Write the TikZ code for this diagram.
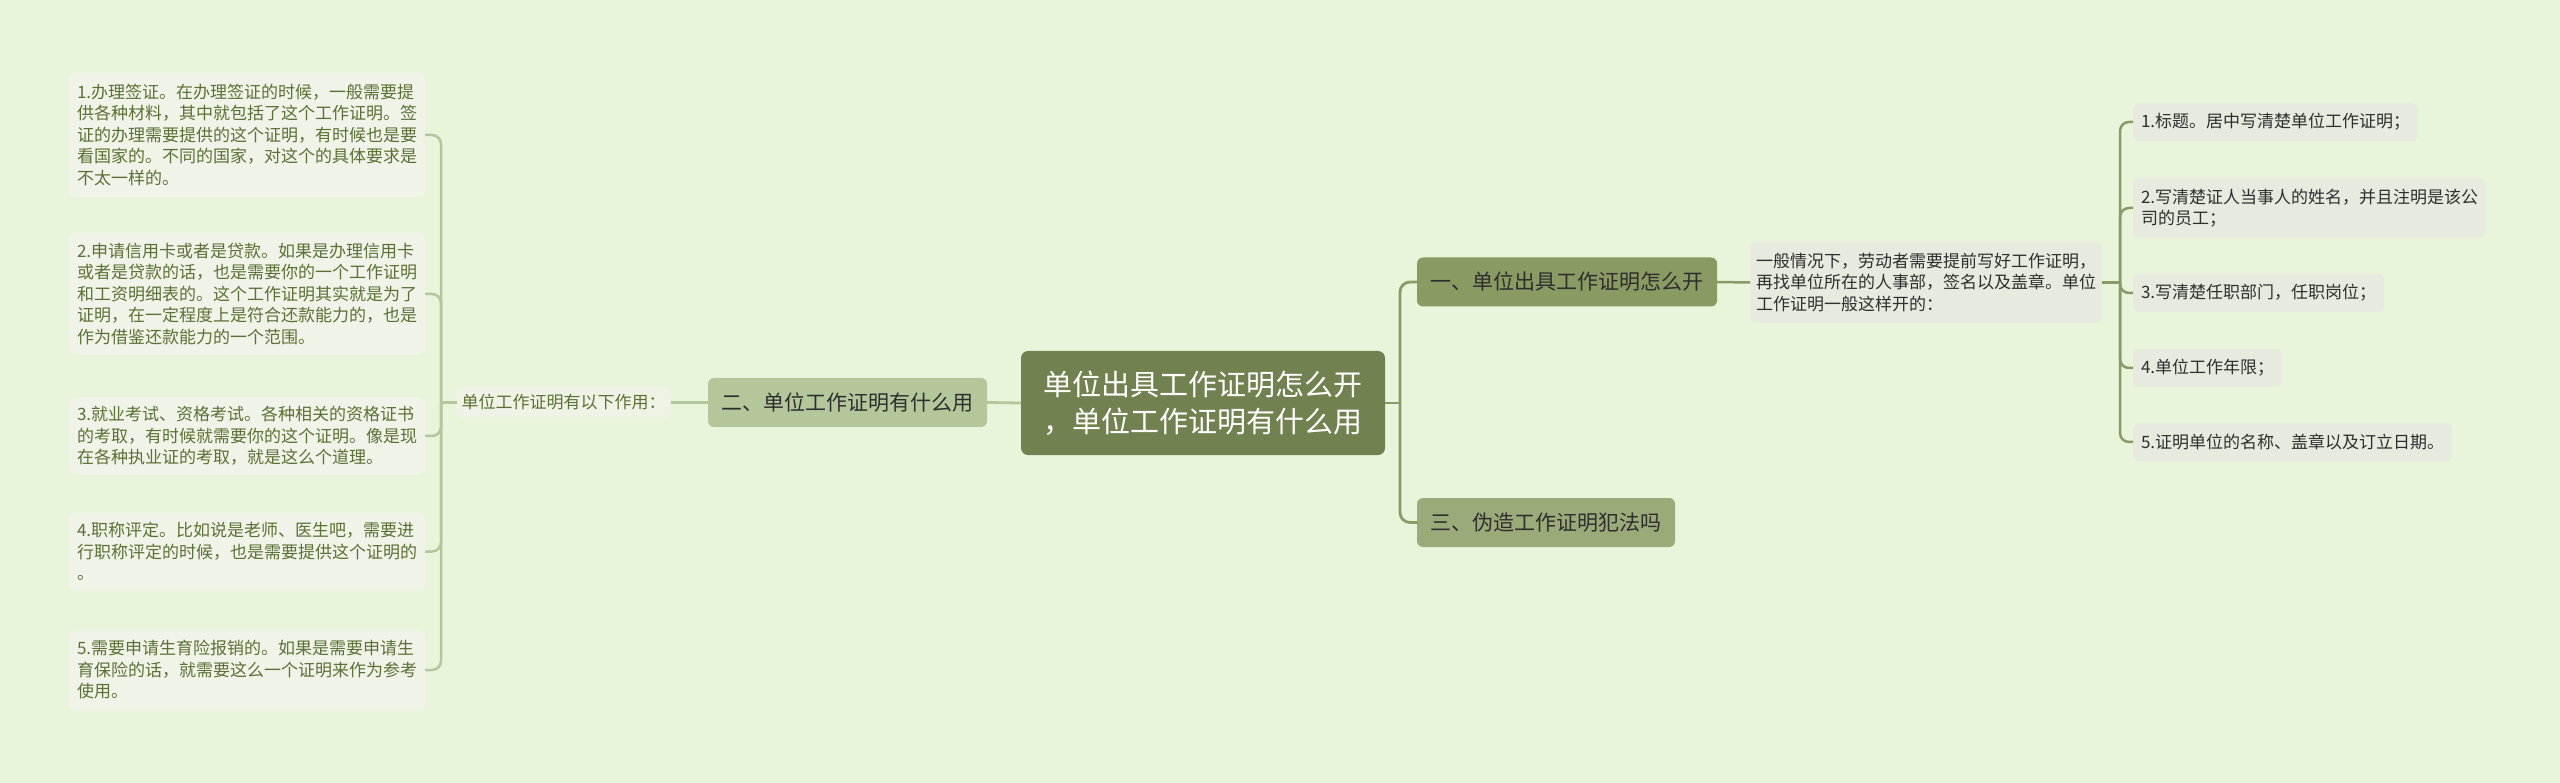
\documentclass[tikz,border=0pt]{standalone}
\usepackage{fontspec}
\setmainfont{Noto Sans CJK SC}
\definecolor{bg}{HTML}{E9F5DB}
\definecolor{rootfill}{HTML}{728150}
\definecolor{onefill}{HTML}{899A63}
\definecolor{threefill}{HTML}{9AAA78}
\definecolor{twofill}{HTML}{B4C79A}
\definecolor{leafLfill}{HTML}{F0F3E8}
\definecolor{leafRfill}{HTML}{E7EADF}
\definecolor{labfill}{HTML}{EFF3E6}
\definecolor{olivetext}{HTML}{5B7034}
\definecolor{darktext}{HTML}{2E2E2E}
\definecolor{lineL}{HTML}{B4C79A}
\definecolor{lineR}{HTML}{8A9A66}
\begin{document}
\begin{tikzpicture}[x=1pt,y=-1pt,
  every node/.style={inner sep=0pt, outer sep=0pt},
  small/.style={font=\fontsize{17}{21.5}\selectfont, align=left, inner xsep=8pt},
  leafL/.style={small, fill=leafLfill, text=olivetext, rounded corners=6pt, anchor=east},
  leafR/.style={small, fill=leafRfill, text=darktext, rounded corners=6pt, anchor=west},
  mainnode/.style={font=\fontsize{21}{26}\selectfont, text=darktext, rounded corners=6pt, inner xsep=13.5pt, minimum height=49pt},
  connL/.style={draw=lineL, line width=2.5pt, rounded corners=9pt},
  connR/.style={draw=lineR, line width=2.5pt, rounded corners=9pt}]
\fill[bg] (0,0) rectangle (2560,783);
\useasboundingbox (0,0) rectangle (2560,783);

% root
\node[fill=rootfill, text=white, rounded corners=7pt, minimum width=364pt, minimum height=104pt,
      font=\fontsize{29}{37}\selectfont, align=center] (root) at (1203,403)
  {单位出具工作证明怎么开\\，单位工作证明有什么用};

% main branches
\node[mainnode, fill=onefill, anchor=west] (n1) at (1417,282) {一、单位出具工作证明怎么开};
\node[mainnode, fill=threefill, anchor=west] (n3) at (1417,522.5) {三、伪造工作证明犯法吗};
\node[mainnode, fill=twofill] (n2) at (847.5,402.5) {二、单位工作证明有什么用};

% label left
\node[fill=labfill, text=olivetext, font=\fontsize{17}{21.5}\selectfont, rounded corners=5pt,
      inner xsep=5pt, minimum height=31pt] (lab) at (563.5,402.5) {单位工作证明有以下作用：};

% description right
\node[leafR, inner xsep=6pt, minimum height=81pt] (desc) at (1750,282.5)
  {一般情况下，劳动者需要提前写好工作证明，\\再找单位所在的人事部，签名以及盖章。单位\\工作证明一般这样开的：};

% left leaves
\node[leafL, minimum height=124pt] (l1) at (425,135)
  {1.办理签证。在办理签证的时候，一般需要提\\供各种材料，其中就包括了这个工作证明。签\\证的办理需要提供的这个证明，有时候也是要\\看国家的。不同的国家，对这个的具体要求是\\不太一样的。};
\node[leafL, minimum height=122pt] (l2) at (425,294)
  {2.申请信用卡或者是贷款。如果是办理信用卡\\或者是贷款的话，也是需要你的一个工作证明\\和工资明细表的。这个工作证明其实就是为了\\证明，在一定程度上是符合还款能力的，也是\\作为借鉴还款能力的一个范围。};
\node[leafL, minimum height=78pt] (l3) at (425,436)
  {3.就业考试、资格考试。各种相关的资格证书\\的考取，有时候就需要你的这个证明。像是现\\在各种执业证的考取，就是这么个道理。};
\node[leafL, minimum height=77pt] (l4) at (425,551.5)
  {4.职称评定。比如说是老师、医生吧，需要进\\行职称评定的时候，也是需要提供这个证明的\\。};
\node[leafL, minimum height=80pt] (l5) at (425,670)
  {5.需要申请生育险报销的。如果是需要申请生\\育保险的话，就需要这么一个证明来作为参考\\使用。};

% right leaves
\node[leafR, minimum height=38pt] (r1) at (2133,122) {1.标题。居中写清楚单位工作证明；};
\node[leafR, minimum height=60pt] (r2) at (2133,208) {2.写清楚证人当事人的姓名，并且注明是该公\\司的员工；};
\node[leafR, minimum height=38pt] (r3) at (2133,293) {3.写清楚任职部门，任职岗位；};
\node[leafR, minimum height=38pt] (r4) at (2133,368) {4.单位工作年限；};
\node[leafR, minimum height=38pt] (r5) at (2133,442) {5.证明单位的名称、盖章以及订立日期。};

% coordinates for trunks
\coordinate (jr) at (1400,403);
\coordinate (jl) at (441,402.5);
\coordinate (jd) at (2120,282.5);

% connectors: root to branches
\draw[draw=lineR, line width=2.8pt] (root.east) -- (jr);
\draw[draw=lineR, line width=2.8pt, rounded corners=10pt] (jr) -- (jr |- n1.west) -- (n1.west);
\draw[draw=lineR, line width=2.8pt, rounded corners=10pt] (jr) -- (jr |- n3.west) -- (n3.west);
\draw[draw=lineL, line width=2.8pt] (root.west) -- (n2.east);

% left side
\draw[connL] (n2.west) -- (lab.east);
\draw[connL] (lab.west) -- (jl);
\foreach \l in {l1,l2,l3,l4,l5}
  \draw[connL] (jl) -- (jl |- \l.east) -- (\l.east);

% right side
\draw[connR] (n1.east) -- (desc.west);
\draw[connR] (desc.east) -- (jd);
\foreach \r in {r1,r2,r3,r4,r5}
  \draw[connR] (jd) -- (jd |- \r.west) -- (\r.west);
\end{tikzpicture}
\end{document}
